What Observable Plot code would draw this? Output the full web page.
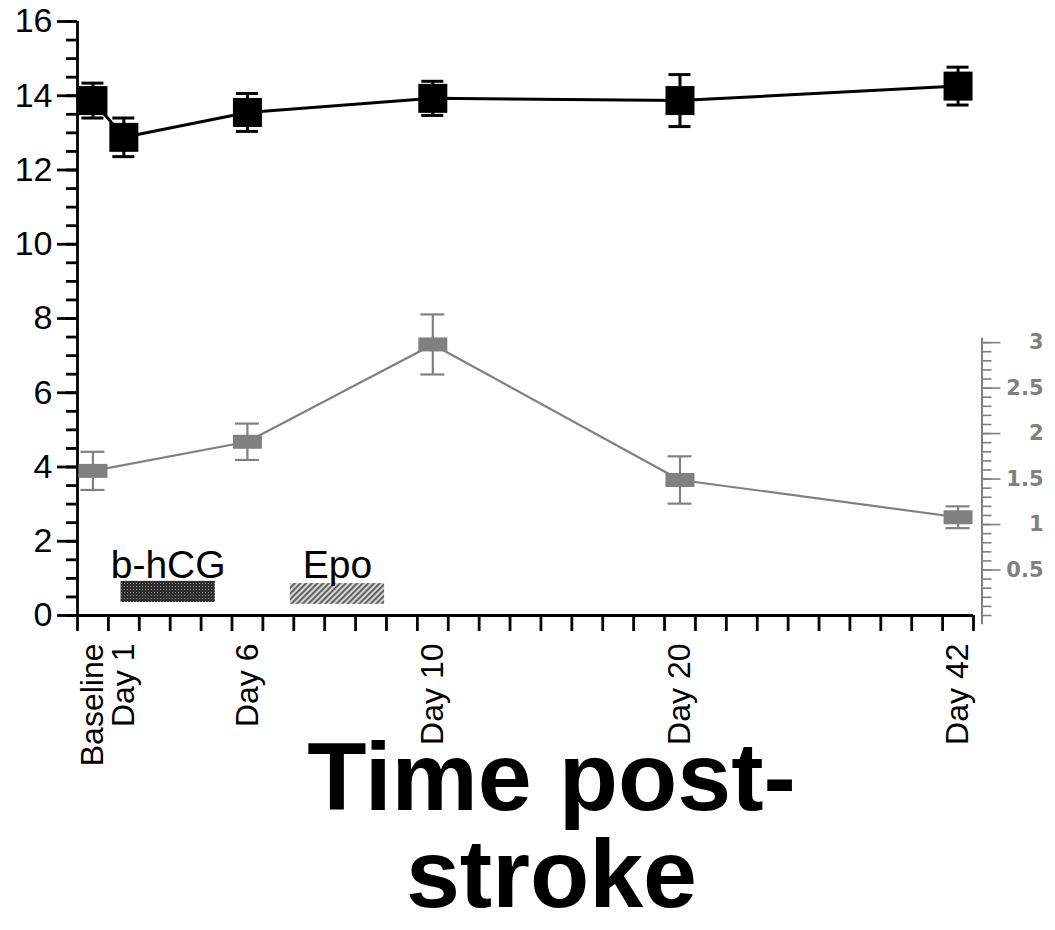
<!DOCTYPE html>
<html>
<head>
<meta charset="utf-8">
<script src="https://cdn.jsdelivr.net/npm/d3@7"></script>
<script src="https://cdn.jsdelivr.net/npm/@observablehq/plot@0.6"></script>
<style>
  html, body { margin: 0; padding: 0; background: #fff; }
  #chart svg { display: block; overflow: visible; }
</style>
</head>
<body>
<div id="chart"></div>
<script>
// ---- data ----
const timeLabels = ["Baseline", "Day 1", "Day 6", "Day 10", "Day 20", "Day 42"];
const timePos = [0.5, 1.5, 5.5, 11.5, 19.5, 28.5];           // position on the time axis (tick units)
const blackMean = [13.87, 12.88, 13.55, 13.93, 13.87, 14.26]; // left axis
const blackErr  = [0.47, 0.52, 0.51, 0.46, 0.70, 0.51];
const grayLabels = ["Baseline", "Day 6", "Day 10", "Day 20", "Day 42"];
const grayMean = [1.59, 1.91, 2.98, 1.49, 1.08];               // right axis
const grayErr  = [0.21, 0.20, 0.33, 0.26, 0.12];
const treatNames = ["b-hCG", "Epo"];
const treatStart = [1.41, 6.89];
const treatEnd   = [4.46, 9.94];
const treatLow   = [0.35, 0.30];
const treatHigh  = [0.92, 0.86];
const leftTicks = [0, 2, 4, 6, 8, 10, 12, 14, 16];
const rightTickLabels = [0.5, 1, 1.5, 2, 2.5, 3];
const titleText = "Time post-\nstroke";

// right axis (0..3) maps onto left axis 0..7.35
const k = 7.35 / 3;
const pxPerUnit = (1055 - 77 - 82) / 29;

const posOf = Object.fromEntries(timeLabels.map((l, i) => [l, timePos[i]]));
const blackData = timeLabels.map((l, i) => ({x: timePos[i], y: blackMean[i], lo: blackMean[i] - blackErr[i], hi: blackMean[i] + blackErr[i]}));
const grayData = grayLabels.map((l, i) => ({x: posOf[l], y: grayMean[i] * k, lo: (grayMean[i] - grayErr[i]) * k, hi: (grayMean[i] + grayErr[i]) * k}));
const treats = treatNames.map((n, i) => ({name: n, x1: treatStart[i], x2: treatEnd[i], y1: treatLow[i], y2: treatHigh[i], xc: (treatStart[i] + treatEnd[i]) / 2}));

const rectSym = (w, h) => ({draw(ctx) { ctx.moveTo(-w/2, -h/2); ctx.lineTo(w/2, -h/2); ctx.lineTo(w/2, h/2); ctx.lineTo(-w/2, h/2); ctx.closePath(); }});
const capB = 11 / pxPerUnit, capG = 12 / pxPerUnit;
const GRAY = "#808080";

const chart = Plot.plot({
  width: 1055,
  height: 930,
  marginLeft: 77,
  marginRight: 82,
  marginTop: 21,
  marginBottom: 315,
  style: {fontFamily: "'Liberation Sans', Arial, Helvetica, sans-serif", background: "#fff", color: "#000"},
  x: {domain: [0, 29]},
  y: {domain: [0, 16]},
  marks: [
    // left axis: minor ticks every 0.5, major every 2
    Plot.axisY({ticks: d3.range(0, 16.01, 0.5), tickSize: 11, tickFormat: () => "", strokeWidth: 2.8}),
    Plot.axisY({ticks: leftTicks, tickSize: 20, tickPadding: 5, tickFormat: d => String(d), fontSize: 34, strokeWidth: 2.8}),
    // bottom axis ticks
    Plot.axisX({ticks: d3.range(0, 30), tickSize: 16, tickFormat: () => "", strokeWidth: 2.8}),
    Plot.ruleX([0], {strokeWidth: 2.8}),
    Plot.ruleY([0], {strokeWidth: 2.8}),
    // time labels
    Plot.text(timeLabels, {x: (d, i) => timePos[i], frameAnchor: "bottom", rotate: -90, textAnchor: "end", lineAnchor: "middle", dy: 28, fontSize: 32}),
    // right axis
    Plot.ruleX([29], {y1: -0.25, y2: 3 * k + 0.12, dx: 8.5, stroke: GRAY, strokeWidth: 2}),
    Plot.axisY({anchor: "right", ticks: d3.range(0, 3.001, 0.1).map(v => v * k), tickSize: 9, tickFormat: () => "", stroke: GRAY, strokeWidth: 1.6, dx: 8.5}),
    Plot.axisY({anchor: "right", ticks: rightTickLabels.map(v => v * k), tickSize: 18, tickFormat: () => "", stroke: GRAY, strokeWidth: 1.6, dx: 8.5}),
    Plot.text(rightTickLabels, {y: d => d * k, frameAnchor: "right", dx: 70, textAnchor: "end", text: d => String(d), fill: GRAY, fontSize: 21, fontWeight: "bold", fontFamily: "'DejaVu Sans', Verdana, sans-serif"}),
    // treatment bars
    Plot.rect(treats.filter(d => d.name === "b-hCG"), {x1: "x1", x2: "x2", y1: "y1", y2: "y2", fill: "url(#pat-hcg)"}),
    Plot.rect(treats.filter(d => d.name === "Epo"), {x1: "x1", x2: "x2", y1: "y1", y2: "y2", fill: "url(#pat-epo)"}),
    Plot.text(treats, {x: "xc", y: 1.02, text: "name", lineAnchor: "bottom", fontSize: 39}),
    // gray series
    Plot.line(grayData, {x: "x", y: "y", stroke: GRAY, strokeWidth: 2.2}),
    Plot.ruleX(grayData, {x: "x", y1: "lo", y2: "hi", stroke: GRAY, strokeWidth: 2.2}),
    Plot.ruleY(grayData, {y: "hi", x1: d => d.x - capG, x2: d => d.x + capG, stroke: GRAY, strokeWidth: 2.2}),
    Plot.ruleY(grayData, {y: "lo", x1: d => d.x - capG, x2: d => d.x + capG, stroke: GRAY, strokeWidth: 2.2}),
    Plot.dot(grayData, {x: "x", y: "y", r: 5, symbol: rectSym(29, 14), fill: GRAY, stroke: "none"}),
    // black series
    Plot.line(blackData, {x: "x", y: "y", stroke: "#000", strokeWidth: 3}),
    Plot.ruleX(blackData, {x: "x", y1: "lo", y2: "hi", stroke: "#000", strokeWidth: 3}),
    Plot.ruleY(blackData, {y: "hi", x1: d => d.x - capB, x2: d => d.x + capB, stroke: "#000", strokeWidth: 3}),
    Plot.ruleY(blackData, {y: "lo", x1: d => d.x - capB, x2: d => d.x + capB, stroke: "#000", strokeWidth: 3}),
    Plot.dot(blackData, {x: "x", y: "y", r: 5, symbol: rectSym(29, 29), fill: "#000", stroke: "none"}),
    // axis title
    Plot.text([titleText], {frameAnchor: "bottom", lineAnchor: "top", dx: 26, dy: 126, fontSize: 97, fontWeight: "bold", lineHeight: 1.0})
  ]
});

const defs = document.createElementNS("http://www.w3.org/2000/svg", "defs");
defs.innerHTML = `
  <pattern id="pat-hcg" patternUnits="userSpaceOnUse" width="3" height="3">
    <rect width="3" height="3" fill="#2e2e2e"></rect>
    <rect x="1" y="1" width="1" height="1" fill="#8a8a8a"></rect>
  </pattern>
  <pattern id="pat-epo" patternUnits="userSpaceOnUse" width="4" height="4" patternTransform="rotate(45)">
    <rect width="4" height="4" fill="#d6d6d6"></rect>
    <rect width="1.8" height="4" fill="#555"></rect>
  </pattern>`;
chart.insertBefore(defs, chart.firstChild);
document.getElementById("chart").appendChild(chart);
</script>
</body>
</html>
